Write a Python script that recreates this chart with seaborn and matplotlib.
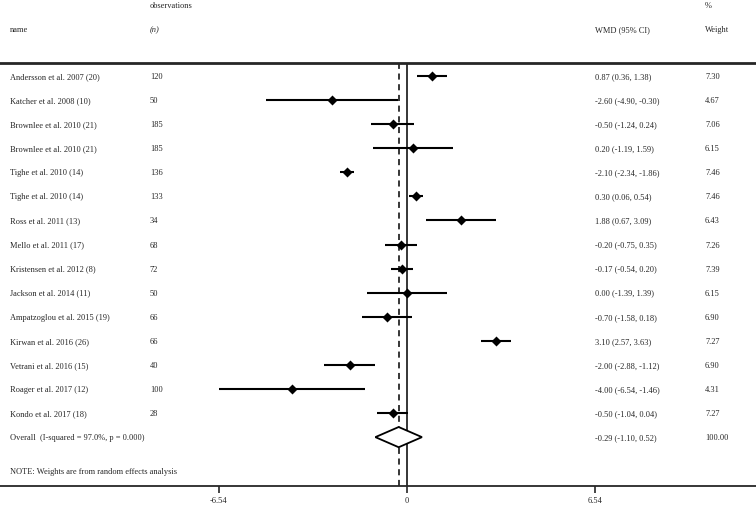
import numpy as np
import pandas as pd
import seaborn as sns
import matplotlib.pyplot as plt
from matplotlib import transforms

# study data
names = ["Andersson et al. 2007 (20)", "Katcher et al. 2008 (10)", "Brownlee et al. 2010 (21)",
         "Brownlee et al. 2010 (21)", "Tighe et al. 2010 (14)", "Tighe et al. 2010 (14)",
         "Ross et al. 2011 (13)", "Mello et al. 2011 (17)", "Kristensen et al. 2012 (8)",
         "Jackson et al. 2014 (11)", "Ampatzoglou et al. 2015 (19)", "Kirwan et al. 2016 (26)",
         "Vetrani et al. 2016 (15)", "Roager et al. 2017 (12)", "Kondo et al. 2017 (18)"]
n_obs = [120, 50, 185, 185, 136, 133, 34, 68, 72, 50, 66, 66, 40, 100, 28]
wmd = [0.87, -2.60, -0.50, 0.20, -2.10, 0.30, 1.88, -0.20, -0.17, 0.00, -0.70, 3.10, -2.00, -4.00, -0.50]
ci_low = [0.36, -4.90, -1.24, -1.19, -2.34, 0.06, 0.67, -0.75, -0.54, -1.39, -1.58, 2.57, -2.88, -6.54, -1.04]
ci_high = [1.38, -0.30, 0.24, 1.59, -1.86, 0.54, 3.09, 0.35, 0.20, 1.39, 0.18, 3.63, -1.12, -1.46, 0.04]
weights = [7.30, 4.67, 7.06, 6.15, 7.46, 7.46, 6.43, 7.26, 7.39, 6.15, 6.90, 7.27, 6.90, 4.31, 7.27]

overall_label = "Overall  (I-squared = 97.0%, p = 0.000)"
overall_est, overall_lo, overall_hi = -0.29, -1.10, 0.52
note = "NOTE: Weights are from random effects analysis"
xticks = [-6.54, 0, 6.54]

df = pd.DataFrame({"name": names, "n": n_obs, "wmd": wmd, "lo": ci_low, "hi": ci_high, "w": weights})
df["row"] = np.arange(len(df))

sns.set_style("white")
plt.rcParams["font.family"] = ["Liberation Serif", "DejaVu Serif"]
fs = 6

fig = plt.figure(figsize=(7.56, 5.08), dpi=100)
ax = fig.add_axes([0, 22 / 508, 1, (486 - 63) / 508])

# confidence intervals and point estimates
ax.hlines(df["row"], df["lo"], df["hi"], color="black", lw=1.5)
sns.scatterplot(data=df, x="wmd", y="row", marker="D", color="black", s=26,
                edgecolor="black", linewidth=0, ax=ax, zorder=3)

# overall diamond
orow = len(df)
ax.fill([overall_lo, overall_est, overall_hi, overall_est, overall_lo],
        [orow, orow - 0.42, orow, orow + 0.42, orow],
        facecolor="white", edgecolor="black", lw=1.3, zorder=3)

ax.axvline(0, color="black", lw=1.1)
ax.axvline(overall_est, color="black", lw=1.1, ls=(0, (4, 3)))

px = 28.75
ax.set_xlim(-407 / px, (756 - 407) / px)
ax.set_ylim(17.03, -0.54)
ax.set_xticks(xticks)
ax.set_xticklabels(["-6.54", "0", "6.54"], fontsize=fs)
ax.set_yticks([])
ax.set_xlabel("")
ax.set_ylabel("")
ax.tick_params(axis="x", direction="out", length=5, width=1.2, pad=3, bottom=True)
for side in ["left", "right"]:
    ax.spines[side].set_visible(False)
ax.spines["bottom"].set_linewidth(1.3)
ax.spines["top"].set_linewidth(2)

# text columns
tr = transforms.blended_transform_factory(fig.transFigure, ax.transData)
cols = [10 / 756, 150 / 756, 595 / 756, 705 / 756]
va = "center_baseline"
for _, r in df.iterrows():
    ax.text(cols[0], r["row"], r["name"], transform=tr, fontsize=fs, va=va)
    ax.text(cols[1], r["row"], f"{r['n']}", transform=tr, fontsize=fs, va=va)
    ax.text(cols[2], r["row"], f"{r['wmd']:.2f} ({r['lo']:.2f}, {r['hi']:.2f})",
            transform=tr, fontsize=fs, va=va)
    ax.text(cols[3], r["row"], f"{r['w']:.2f}", transform=tr, fontsize=fs, va=va)
ax.text(cols[0], orow, overall_label, transform=tr, fontsize=fs, va=va)
ax.text(cols[2], orow, f"{overall_est:.2f} ({overall_lo:.2f}, {overall_hi:.2f})",
        transform=tr, fontsize=fs, va=va)
ax.text(cols[3], orow, "100.00", transform=tr, fontsize=fs, va=va)
ax.text(cols[0], orow + 1.4, note, transform=tr, fontsize=fs, va=va)

# header
def fy(p):
    return 1 - p / 508
fig.text(cols[1], fy(5), "observations", fontsize=fs, va=va)
fig.text(cols[0], fy(29), "name", fontsize=fs, va=va)
fig.text(cols[1], fy(29), "(n)", fontsize=fs, va=va, style="italic")
fig.text(cols[2], fy(29), "WMD (95% CI)", fontsize=fs, va=va)
fig.text(cols[3], fy(5), "%", fontsize=fs, va=va)
fig.text(cols[3], fy(29), "Weight", fontsize=fs, va=va)

fig.savefig("out.png", dpi=100, facecolor="white")
